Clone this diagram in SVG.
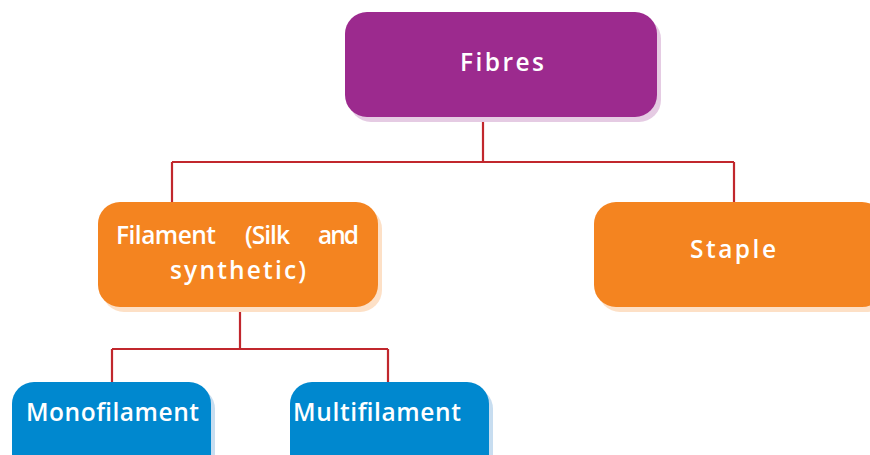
<svg xmlns="http://www.w3.org/2000/svg" width="870" height="455" viewBox="0 0 870 455">
<style>
.lbl{font-family:"Open Sans","Noto Sans","Liberation Sans",sans-serif;font-weight:600;font-size:24.5px;fill:#ffffff}
.conn{fill:none;stroke:#c1272d;stroke-width:2.2}
</style>
<rect width="870" height="455" fill="#ffffff"/>
<g id="connectors">
<path class="conn" d="M483,117 V162 M172,162 H734 M172,162 V203 M734,162 V203"/>
<path class="conn" d="M240,307 V349 M112,349 H388 M112,349 V383 M388,349 V383"/>
</g>
<g id="fibres">
<rect x="349" y="17" width="312" height="105" rx="22" fill="#e5cbe3"/>
<rect x="345" y="12" width="312" height="105" rx="22" fill="#9c2a8e"/>
<text class="lbl" x="502" y="71" text-anchor="middle" textLength="84" lengthAdjust="spacing">Fibres</text>
</g>
<g id="filament">
<rect x="102" y="207" width="280" height="105" rx="22" fill="#fde0c6"/>
<rect x="98" y="202" width="280" height="105" rx="22" fill="#f48420"/>
<text class="lbl" y="244"><tspan x="116" textLength="100" lengthAdjust="spacing">Filament</tspan><tspan x="245" textLength="45" lengthAdjust="spacing">(Silk</tspan><tspan x="318" textLength="41" lengthAdjust="spacing">and</tspan></text>
<text class="lbl" x="238" y="279" text-anchor="middle" textLength="136" lengthAdjust="spacing">synthetic)</text>
</g>
<g id="staple">
<rect x="598" y="207" width="290" height="105" rx="22" fill="#fde0c6"/>
<rect x="594" y="202" width="290" height="105" rx="22" fill="#f48420"/>
<text class="lbl" x="733" y="258" text-anchor="middle" textLength="86" lengthAdjust="spacing">Staple</text>
</g>
<g id="monofilament">
<rect x="16" y="387" width="199" height="100" rx="22" fill="#c7ddf0"/>
<rect x="12" y="382" width="199" height="100" rx="22" fill="#0088cf"/>
<text class="lbl" x="26" y="421" textLength="173" lengthAdjust="spacing">Monofilament</text>
</g>
<g id="multifilament">
<rect x="294" y="387" width="199" height="100" rx="22" fill="#c7ddf0"/>
<rect x="290" y="382" width="199" height="100" rx="22" fill="#0088cf"/>
<text class="lbl" x="293" y="421" textLength="168" lengthAdjust="spacing">Multifilament</text>
</g>
</svg>
